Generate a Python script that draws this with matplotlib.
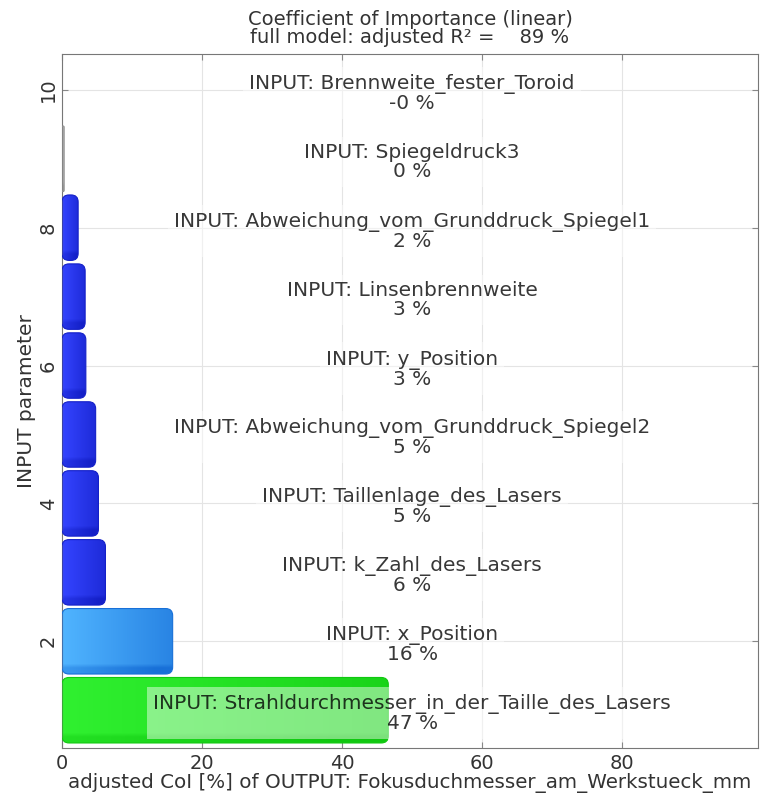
import matplotlib
matplotlib.use('Agg')

import numpy as np
import matplotlib.pyplot as plt
from matplotlib.patches import FancyBboxPatch
from matplotlib.colors import LinearSegmentedColormap

# input parameters, bottom (position 1) to top (position 10)
params = [
    "Strahldurchmesser_in_der_Taille_des_Lasers",
    "x_Position",
    "k_Zahl_des_Lasers",
    "Taillenlage_des_Lasers",
    "Abweichung_vom_Grunddruck_Spiegel2",
    "y_Position",
    "Linsenbrennweite",
    "Abweichung_vom_Grunddruck_Spiegel1",
    "Spiegeldruck3",
    "Brennweite_fester_Toroid",
]
coi = [46.6, 15.8, 6.2, 5.2, 4.8, 3.4, 3.3, 2.3, 0.3, -0.1]
# (light, dark) gradient ends per bar
bar_colors = [
    ("#30f030", "#10c810"),
    ("#50b4ff", "#1870d8"),
] + [("#3444ff", "#1420c8")] * 6 + [("#c8c8c8", "#909090"), ("#c8c8c8", "#909090")]
r2_full = 89
output_name = "Fokusduchmesser_am_Werkstueck_mm"

fig = plt.figure(figsize=(7.63, 8.01), dpi=100)
ax = fig.add_axes([0.0813, 0.066, 0.9121, 0.8666])
ax.set_xlim(0, 99.4)
ax.set_ylim(0.45, 10.52)

ax.grid(True, color="#e4e4e4", linewidth=0.8, zorder=0)
ax.set_axisbelow(True)

# pixel size of one data unit, used to keep the corner rounding circular
px_x = ax.get_window_extent().width / 99.4
px_y = ax.get_window_extent().height / (10.52 - 0.45)

pos = np.arange(1, len(coi) + 1)
h = 0.95
for y, v, (c0, c1) in zip(pos, coi, bar_colors):
    if v <= 0:
        continue
    r = min(1.0, v / 2)
    patch = FancyBboxPatch((0, y - h / 2), v, h,
                           boxstyle=f"round,pad=0,rounding_size={r}",
                           mutation_aspect=px_x / px_y,
                           facecolor="none", edgecolor=c1, linewidth=0.8, zorder=3)
    ax.add_patch(patch)
    cmap = LinearSegmentedColormap.from_list("g", [c0, c1])
    gx = np.linspace(0, 1, 64)
    gy = np.linspace(0, 1, 16)
    grad = 0.7 * gx[None, :] + 0.4 * (gy[:, None] < 0.1)
    im = ax.imshow(grad, cmap=cmap, vmin=0, vmax=1, aspect="auto",
                   extent=(0, v, y - h / 2, y + h / 2), origin="lower",
                   interpolation="bilinear", zorder=2)
    im.set_clip_path(patch)

for y, name, v in zip(pos, params, coi):
    ax.text(50, y - 0.05, f"INPUT: {name}\n{v:.0f} %", ha="center", va="center",
            fontsize=14.5, color="black", alpha=0.78, linespacing=1.0, zorder=5,
            bbox=dict(boxstyle="square,pad=0.3", facecolor="white",
                      edgecolor="none", alpha=0.45))

ax.set_xticks([0, 20, 40, 60, 80])
ax.set_yticks([2, 4, 6, 8, 10])
ax.tick_params(direction="in", top=True, right=True, length=4,
               color="#888888", labelsize=14, labelcolor="#333333")
ax.tick_params(axis="x", pad=4)
ax.tick_params(axis="y", pad=3)
for lab in ax.get_yticklabels():
    lab.set_rotation(90)
    lab.set_va("center")
for s in ax.spines.values():
    s.set_color("#777777")

ax.set_xlabel(f"adjusted CoI [%] of OUTPUT: {output_name}", fontsize=14.3,
              color="#333333", labelpad=0)
ax.set_ylabel("INPUT parameter", fontsize=14.5, color="#333333", labelpad=2)
ax.set_title(f"Coefficient of Importance (linear)\nfull model: adjusted R\u00b2 =    {r2_full} %",
             fontsize=14, color="#333333", linespacing=0.95, pad=8)

fig.savefig("out.png", dpi=100)
